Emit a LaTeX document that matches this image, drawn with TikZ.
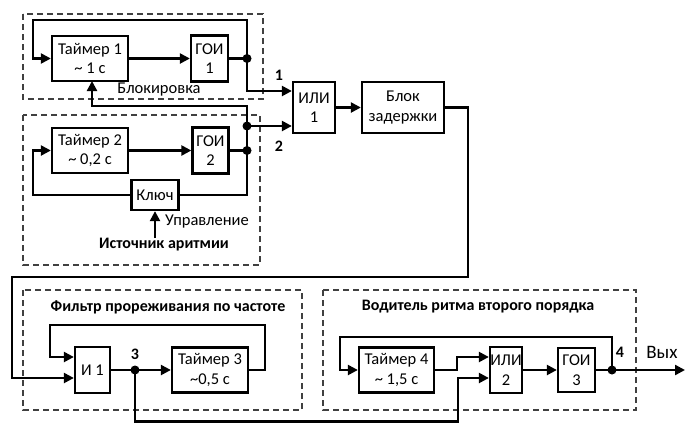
\documentclass[tikz,border=0pt]{standalone}
\usepackage{fontspec}
\setmainfont{Carlito}
\usetikzlibrary{arrows.meta}
\begin{document}
\begin{tikzpicture}[x=1pt,y=-1pt,
  wire/.style={line width=2.3pt},
  arr/.style={wire,-{Triangle[length=10pt,width=10pt]}},
  blk/.style={draw,line width=2.3pt,align=center,inner sep=0pt,font=\fontsize{16.5}{19.5}\selectfont},
  grp/.style={draw=black!75,line width=1.6pt,dash pattern=on 6pt off 4pt},
  lbl/.style={font=\fontsize{16.5}{19.5}\selectfont},
  ttl/.style={font=\bfseries\fontsize{16}{19}\selectfont},
  num/.style={font=\bfseries\fontsize{16}{19}\selectfont},
  dotn/.style={circle,fill,inner sep=0pt,minimum size=9pt}]
\useasboundingbox (0,0) rectangle (685,423);
% groups
\draw[grp] (23,14) rectangle (263,99);
\draw[grp] (23,115) rectangle (260,265);
\draw[grp] (23,290) rectangle (302,410);
\draw[grp] (323,290) rectangle (636,410);
% blocks
\node[blk,minimum width=76pt,minimum height=45pt] (T1) at (90,58.5) {Таймер 1\\\textasciitilde\ 1 с};
\node[blk,minimum width=37pt,minimum height=46pt] (G1) at (209.5,58.5) {ГОИ\\1};
\node[blk,minimum width=76pt,minimum height=45pt] (T2) at (90,150.5) {Таймер 2\\\textasciitilde\ 0,2 с};
\node[blk,minimum width=36pt,minimum height=46pt] (G2) at (210.5,150.5) {ГОИ\\2};
\node[blk,minimum width=47pt,minimum height=30pt] (K) at (155,195) {Ключ};
\node[blk,minimum width=42pt,minimum height=51pt] (OR1) at (314,107.5) {ИЛИ\\1};
\node[blk,minimum width=82pt,minimum height=51pt] (D) at (403,107.5) {Блок\\задержки};
\node[blk,minimum width=35pt,minimum height=46pt] (A1) at (92.5,370) {И 1};
\node[blk,minimum width=76pt,minimum height=45pt] (T3) at (210,370) {Таймер 3\\\textasciitilde0,5 с};
\node[blk,minimum width=75pt,minimum height=45pt] (T4) at (396.5,370) {Таймер 4\\\textasciitilde\ 1,5 с};
\node[blk,minimum width=32pt,minimum height=46pt] (OR2) at (506,370) {ИЛИ\\2};
\node[blk,minimum width=37pt,minimum height=44pt] (G3) at (576.5,370) {ГОИ\\3};
% texts
\node[lbl] (blok) at (159,90) {Блокировка};
\node[lbl] (upr) at (207,222) {Управление};
\node[ttl] (src) at (164,245) {Источник аритмии};
\node[ttl] (t3) at (168,307) {Фильтр прореживания по частоте};
\node[ttl] (t4) at (478,307) {Водитель ритма второго порядка};
\node[num] (n1) at (279,75) {1};
\node[num] (n2) at (279,146) {2};
\node[num] (n3) at (135,354) {3};
\node[num] (n4) at (620,352) {4};
\node[lbl,font=\fontsize{19}{22}\selectfont] (vyh) at (662,352) {Вых};
% dots
\node[dotn] (d1) at (247,58.5) {};
\node[dotn] (d2) at (247,126) {};
\node[dotn] (d3) at (247,150.5) {};
\node[dotn] (d4) at (135,370) {};
\node[dotn] (d5) at (612,370) {};
% coordinates
\coordinate (in11) at ([yshift=16.5pt]OR1.west);
\coordinate (in12) at ([yshift=-18.5pt]OR1.west);
\coordinate (ina1) at ([yshift=13pt]A1.west);
\coordinate (ina2) at ([yshift=-8pt]A1.west);
\coordinate (ino1) at ([yshift=13pt]OR2.west);
\coordinate (ino2) at ([yshift=-8pt]OR2.west);
\coordinate (out) at (685,370);
% timer 1 loop
\draw[arr] (d1.center) |- (33,20) |- (T1.west);
\draw[arr] (T1.east) -- (G1.west);
\draw[wire] (G1.east) -- (d1.center);
\draw[arr] (d1.center) |- (in11);
% blocking
\draw[arr] (d2.center) |- (92,106) -- (92,81);
\draw[arr] (d2.center) -- (in12);
\draw[wire] (d2.center) -- (d3.center);
% timer 2
\draw[arr] (T2.east) -- (G2.west);
\draw[wire] (G2.east) -- (d3.center);
\draw[wire] (d3.center) |- (K.east);
\draw[arr] (K.west) -| (33,150.5) -- (T2.west);
\draw[arr] (K.south |- 0,238) -- (K.south);
% OR1 -> delay
\draw[arr] (OR1.east) -- (D.west);
\draw[arr] (D.east) -| (468,277) -| (12,378) -- (ina2);
% filter
\draw[arr] (T3.east) -| (265,325) -| (50,357) -- (ina1);
\draw[wire] (A1.east) -- (d4.center);
\draw[arr] (d4.center) -- (T3.west);
\draw[arr] (d4.center) |- (458,421.5) |- (ino2);
% pacemaker
\draw[arr] (d5.center) |- (340,337) |- (T4.west);
\draw[arr] (T4.east) -| (457,357) -- (ino1);
\draw[arr] (OR2.east) -- (G3.west);
\draw[wire] (G3.east) -- (d5.center);
\draw[arr] (d5.center) -- (out);
\end{tikzpicture}
\end{document}
